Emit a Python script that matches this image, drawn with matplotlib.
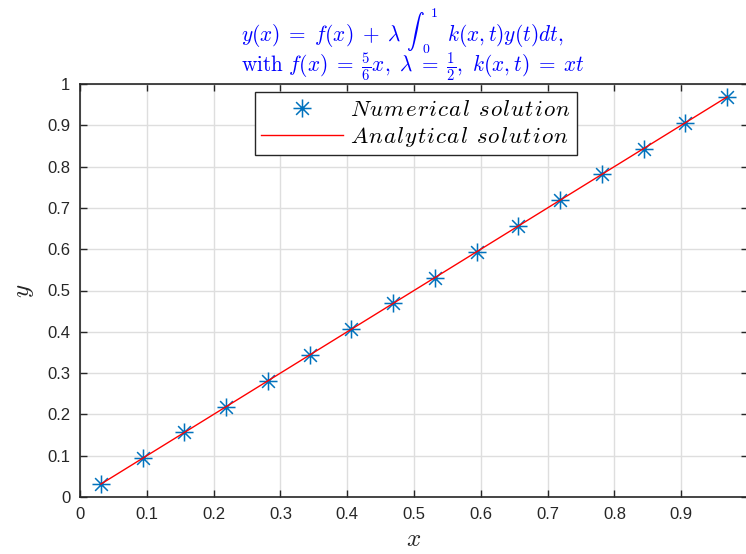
import matplotlib
matplotlib.use('Agg')
import matplotlib.pyplot as plt
from matplotlib.path import Path

plt.rcParams['mathtext.fontset'] = 'cm'
plt.rcParams['font.family'] = ['Liberation Sans', 'DejaVu Sans']

# collocation nodes and computed values
x_num = [0.03125, 0.09375, 0.15625, 0.21875, 0.28125, 0.34375, 0.40625, 0.46875,
         0.53125, 0.59375, 0.65625, 0.71875, 0.78125, 0.84375, 0.90625, 0.96875]
y_num = [0.03125, 0.09375, 0.15625, 0.21875, 0.28125, 0.34375, 0.40625, 0.46875,
         0.53125, 0.59375, 0.65625, 0.71875, 0.78125, 0.84375, 0.90625, 0.96875]
# exact solution y(x) = x on the same nodes
y_exact = [0.03125, 0.09375, 0.15625, 0.21875, 0.28125, 0.34375, 0.40625, 0.46875,
           0.53125, 0.59375, 0.65625, 0.71875, 0.78125, 0.84375, 0.90625, 0.96875]

xticks = [0, 0.1, 0.2, 0.3, 0.4, 0.5, 0.6, 0.7, 0.8, 0.9, 1]
yticks = [0, 0.1, 0.2, 0.3, 0.4, 0.5, 0.6, 0.7, 0.8, 0.9, 1]
xticklabels = ['0', '0.1', '0.2', '0.3', '0.4', '0.5', '0.6', '0.7', '0.8', '0.9', '']
yticklabels = ['0', '0.1', '0.2', '0.3', '0.4', '0.5', '0.6', '0.7', '0.8', '0.9', '1']
legend_labels = ['Numerical solution', 'Analytical solution']

dark = '#262626'
W, H = 746, 554


def math_italic(s, gap=0.06):
    # spread the letters a little, like TeX math italic
    parts = [r'\ ' if c == ' ' else c for c in s]
    return '$' + (r'\hspace{%g}' % gap).join(parts) + '$'


# matlab style asterisk: '+' and 'x' overlaid
d = 0.7071
star = Path([(-1, 0), (1, 0), (0, -1), (0, 1), (-d, -d), (d, d), (-d, d), (d, -d)],
            [Path.MOVETO, Path.LINETO] * 4)

fig = plt.figure(figsize=(W / 100, H / 100), dpi=100)
ax = fig.add_axes([80 / W, 1 - 497 / H, 668 / W, 413 / H])

ax.plot(x_num, y_num, linestyle='none', marker=star, color='#0072BD', markersize=13,
        markeredgewidth=1.1, label=math_italic(legend_labels[0]), zorder=2)
ax.plot(x_num, y_exact, '-', color='red', linewidth=1.0,
        label=math_italic(legend_labels[1]), zorder=3)

ax.set_xlim(0, 1)
ax.set_ylim(0, 1)
ax.set_xticks(xticks)
ax.set_yticks(yticks)
ax.set_xticklabels(xticklabels)
ax.set_yticklabels(yticklabels)
ax.grid(True, color='#dedede', linewidth=1.0)
ax.set_axisbelow(True)
ax.tick_params(direction='in', top=True, right=True, length=5, width=1.0,
               colors=dark, labelsize=12, pad=7)
for s in ax.spines.values():
    s.set_color(dark)
    s.set_linewidth(1.2)

ax.set_xlabel(r'$x$', fontsize=18, color=dark, labelpad=4)
ax.set_ylabel(r'$y$', fontsize=18, color=dark, labelpad=8)

leg = ax.legend(loc='upper left', bbox_to_anchor=(175 / 668, 1 - 8 / 413), fontsize=16.5,
                fancybox=False, edgecolor=dark, framealpha=1, borderpad=0.25,
                handlelength=3.6, handletextpad=0.3, labelspacing=0.18, borderaxespad=0)
leg.get_frame().set_linewidth(1.0)

# two-line equation title, laid out piece by piece so the integral can be tall
renderer = fig.canvas.get_renderer()
tsize = 15.3


def put(xpx, ypx, s, size=tsize, va='baseline'):
    t = fig.text(xpx / W, 1 - ypx / H, s, fontsize=size, color='blue', ha='left', va=va)
    return t, t.get_window_extent(renderer)


x0 = 241
_, b = put(x0, 41, r'$y(x)\;=\;f(x)\;+\;\lambda$')
# integral sign about 45 px tall, centred on y = 31
integ, ib = put(b.x1 + 5, 31, r'$\int$', size=14, va='center')
integ.set_fontsize(14 * 45 / ib.height)
ib = integ.get_window_extent(renderer)
put(ib.x1 + 5, 13, r'$1$', size=10, va='center')
put(ib.x1 - 3, 49, r'$0$', size=10, va='center')
put(ib.x1 + 22, 41, r'$k(x,t)y(t)dt,$')

put(x0, 72, r'$\mathrm{with}\ f(x)\;=\;\frac{5}{6}x,\ \lambda\;=\;\frac{1}{2},\ k(x,t)\;=\;xt$')

fig.savefig('out.png', dpi=100)
